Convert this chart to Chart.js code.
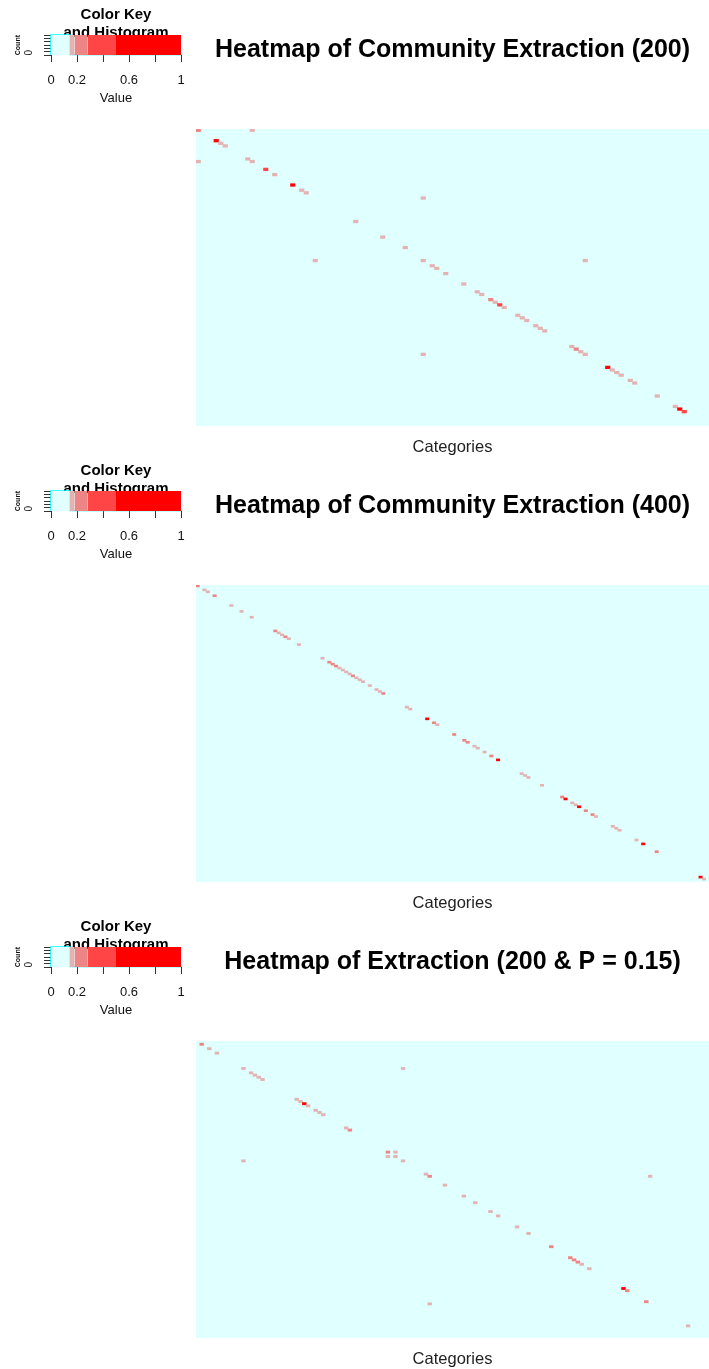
<!DOCTYPE html>
<html>
<head>
<meta charset="utf-8">
<script src="https://cdn.jsdelivr.net/npm/chart.js@4.4.1/dist/chart.umd.min.js"></script>
<style>
html, body { margin: 0; padding: 0; background: #fff; width: 709px; height: 1369px; overflow: hidden; }
canvas { position: absolute; }
</style>
</head>
<body>
<canvas id="key0" width="200" height="110" style="left:0;top:0"></canvas>
<canvas id="heat0" width="513" height="460" style="left:196px;top:0"></canvas>
<canvas id="key1" width="200" height="110" style="left:0;top:456px"></canvas>
<canvas id="heat1" width="513" height="460" style="left:196px;top:456px"></canvas>
<canvas id="key2" width="200" height="110" style="left:0;top:912px"></canvas>
<canvas id="heat2" width="513" height="460" style="left:196px;top:912px"></canvas>
<script>
// colour key
var keyBreaks = [0, 0.145, 0.183, 0.28, 0.5, 1];
var keyColors = ['#E0FFFF', '#E3B3B3', '#EE8585', '#FF4545', '#FF0000'];
var keyTickLabels = ['0', '0.2', '', '0.6', '', '1'];
var histCounts = [7.5, 0.2, 0.2, 0.2, 0.2];
var keyTop = 7.5;

var titles = ['Heatmap of Community Extraction (200)',
    'Heatmap of Community Extraction (400)',
    'Heatmap of Extraction (200 & P = 0.15)'];
var sizes = [114, 152, 135];

// panel 1 (200)
var cols1 = [0, 12, 4, 5, 6, 0, 11, 12, 15, 17, 21, 23, 24, 50, 26, 35, 41, 46, 50, 52, 53, 55, 86, 50, 59,
    62, 63, 65, 66, 67, 68, 71, 72, 73, 75, 76, 77, 83, 84, 85, 86, 91, 92, 93, 94, 96, 97, 102, 106, 107, 108];
var rows1 = [0, 0, 4, 5, 6, 12, 11, 12, 15, 17, 21, 23, 24, 26, 50, 35, 41, 45, 50, 52, 53, 55, 50, 86, 59,
    62, 63, 65, 66, 67, 68, 71, 72, 73, 75, 76, 77, 83, 84, 85, 86, 91, 92, 93, 94, 96, 97, 102, 106, 107, 108];
var vals1 = [.24, .16, .7, .16, .16, .16, .16, .16, .35, .16, .6, .16, .16, .16, .16, .16, .16, .16, .16, .16,
    .16, .16, .16, .16, .16, .16, .16, .26, .16, .3, .16, .16, .16, .16, .16, .16, .16, .16, .26, .16,
    .16, .6, .16, .16, .16, .16, .16, .16, .16, .7, .3];

// panel 2 (400)
var cols2 = [0, 2, 3, 5, 10, 13, 16, 23, 24, 25, 26, 27, 30, 37, 39, 40, 41, 42, 43, 44, 45, 46, 47, 48, 49, 51,
    53, 54, 55, 62, 63, 68, 70, 71, 76, 79, 80, 82, 83, 85, 87, 89, 96, 97, 98, 102, 108, 109, 111, 112, 113,
    115, 117, 118, 123, 124, 125, 130, 132, 136, 149, 150];
var rows2 = [0, 2, 3, 5, 10, 13, 16, 23, 24, 25, 26, 27, 30, 37, 39, 40, 41, 42, 43, 44, 45, 46, 47, 48, 49, 51,
    53, 54, 55, 62, 63, 68, 70, 71, 76, 79, 80, 82, 83, 85, 87, 89, 96, 97, 98, 102, 108, 109, 111, 112, 113,
    115, 117, 118, 123, 124, 125, 130, 132, 136, 149, 150];
var vals2 = [.26, .16, .16, .26, .16, .16, .16, .26, .16, .16, .26, .16, .16, .16, .26, .26, .26, .16, .16, .16,
    .16, .26, .16, .16, .16, .16, .16, .16, .26, .16, .16, .5, .26, .16, .26, .26, .26, .16, .16, .16,
    .26, .5, .16, .16, .16, .16, .26, .5, .16, .16, .5, .26, .26, .16, .16, .16, .16, .16, .5, .26,
    .5, .16];

// panel 3 (200 & P = 0.15)
var cols3 = [1, 3, 5, 12, 54, 12, 14, 15, 16, 17, 26, 27, 28, 29, 31, 32, 33, 39, 40, 50, 52, 50, 52, 54, 60,
    61, 65, 119, 61, 70, 73, 77, 79, 84, 87, 93, 98, 99, 100, 101, 103, 112, 113, 118, 129];
var rows3 = [1, 3, 5, 12, 12, 54, 14, 15, 16, 17, 26, 27, 28, 29, 31, 32, 33, 39, 40, 50, 50, 52, 52, 54, 60,
    61, 65, 61, 119, 70, 73, 77, 79, 84, 87, 93, 98, 99, 100, 101, 103, 112, 113, 118, 129];
var vals3 = [.26, .16, .16, .16, .16, .16, .16, .16, .16, .16, .16, .16, .5, .16, .16, .16, .16, .16, .26, .26,
    .16, .16, .16, .16, .16, .26, .16, .16, .16, .16, .16, .16, .16, .16, .16, .26, .26, .26, .26, .16,
    .16, .5, .26, .26, .16];

var panels = [[cols1, rows1, vals1], [cols2, rows2, vals2], [cols3, rows3, vals3]];

Chart.defaults.font.family = '"Liberation Sans", Arial, sans-serif';
Chart.defaults.color = '#111';

function colorFor(v) {
    for (var i = 0; i < keyColors.length; i++) {
        if (v < keyBreaks[i + 1]) return keyColors[i];
    }
    return keyColors[keyColors.length - 1];
}

// value 0 cells fill the whole plot
var cyanBack = {
    id: 'cyanBack',
    beforeDatasetsDraw: function (chart) {
        var a = chart.chartArea;
        var ctx = chart.ctx;
        ctx.save();
        ctx.fillStyle = keyColors[0];
        ctx.fillRect(a.left, a.top, a.right - a.left, a.bottom - a.top);
        ctx.restore();
    }
};

function drawKey(id) {
    var datasets = [];
    for (var i = 0; i < keyColors.length; i++) {
        datasets.push({
            data: [{ x: keyBreaks[i], y: keyTop }, { x: keyBreaks[i + 1], y: keyTop }],
            backgroundColor: keyColors[i],
            borderWidth: 0,
            pointRadius: 0,
            fill: 'origin'
        })
    }
    var hist = [{ x: keyBreaks[0], y: 0 }];
    for (i = 0; i < histCounts.length; i++) {
        hist.push({ x: keyBreaks[i], y: histCounts[i] });
        hist.push({ x: keyBreaks[i + 1], y: histCounts[i] });
    }
    hist.push({ x: keyBreaks[keyBreaks.length - 1], y: 0 });
    datasets.push({
        data: hist,
        borderColor: '#00FFFF',
        borderWidth: 1.5,
        pointRadius: 0,
        fill: false,
        clip: false
    })

    new Chart(document.getElementById(id), {
        type: 'line',
        data: { datasets: datasets },
        options: {
            responsive: false,
            animation: false,
            layout: { padding: { right: 19 } },
            plugins: {
                legend: { display: false },
                tooltip: { enabled: false },
                title: {
                    display: true,
                    fullSize: false,
                    text: ['Color Key', 'and Histogram'],
                    color: '#000',
                    font: { size: 15, weight: 'bold', lineHeight: 1.18 },
                    padding: { top: 6.5, bottom: -6.9 }
                }
            },
            scales: {
                x: {
                    type: 'linear', min: 0, max: 1,
                    grid: { drawOnChartArea: false, drawTicks: true, tickLength: 7, color: '#333' },
                    border: { display: false },
                    ticks: {
                        stepSize: 0.2, autoSkip: false, maxRotation: 0, padding: 11,
                        font: { size: 13 },
                        callback: function (v, i) { return keyTickLabels[i]; }
                    },
                    title: { display: true, text: 'Value', font: { size: 13 }, padding: { top: 0, bottom: 3.5 } },
                    afterFit: function (s) { s.height = 55; }
                },
                y: {
                    type: 'linear', min: 0, max: keyTop,
                    grid: { drawOnChartArea: false, drawTicks: true, tickLength: 7, color: '#333' },
                    border: { display: false },
                    ticks: {
                        stepSize: 1.25, autoSkip: false, includeBounds: false,
                        minRotation: 90, maxRotation: 90, padding: 15, labelOffset: -5,
                        font: { size: 10 },
                        callback: function (v) { return v === 0 ? '0' : ''; }
                    },
                    title: { display: true, text: 'Count', align: 'end', font: { size: 7, weight: 'bold' }, padding: { top: 14 } },
                    afterFit: function (s) { s.width = 51; }
                }
            }
        }
    })
}

function drawHeat(id, n, title, cols, rows, vals) {
    var categories = [];
    for (var i = 0; i < n; i++) categories.push('C' + (i + 1));
    var cells = [];
    var colors = [];
    for (i = 0; i < cols.length; i++) {
        cells.push({ x: categories[cols[i]], y: [rows[i], rows[i] + 1] });
        colors.push(colorFor(vals[i]));
    }
    new Chart(document.getElementById(id), {
        type: 'bar',
        data: {
            labels: categories,
            datasets: [{
                data: cells,
                backgroundColor: colors,
                borderWidth: 0,
                barPercentage: 1,
                categoryPercentage: 1
            }]
        },
        options: {
            responsive: false,
            animation: false,
            plugins: {
                legend: { display: false },
                tooltip: { enabled: false },
                title: {
                    display: true,
                    text: title,
                    color: '#000',
                    font: { size: 25, weight: 'bold', lineHeight: 1.2 },
                    padding: { top: 35, bottom: 64 }
                }
            },
            scales: {
                x: {
                    grid: { display: false, drawTicks: false },
                    border: { display: false },
                    ticks: { display: false },
                    title: { display: true, text: 'Categories', color: '#222', font: { size: 16.5 }, padding: { top: 0, bottom: 3 } },
                    afterFit: function (s) { s.height = 34; }
                },
                y: { display: false, min: 0, max: n, reverse: true }
            }
        },
        plugins: [cyanBack]
    })
}

for (var p = 0; p < 3; p++) {
    drawKey('key' + p);
    drawHeat('heat' + p, sizes[p], titles[p], panels[p][0], panels[p][1], panels[p][2]);
}
</script>
</body>
</html>
